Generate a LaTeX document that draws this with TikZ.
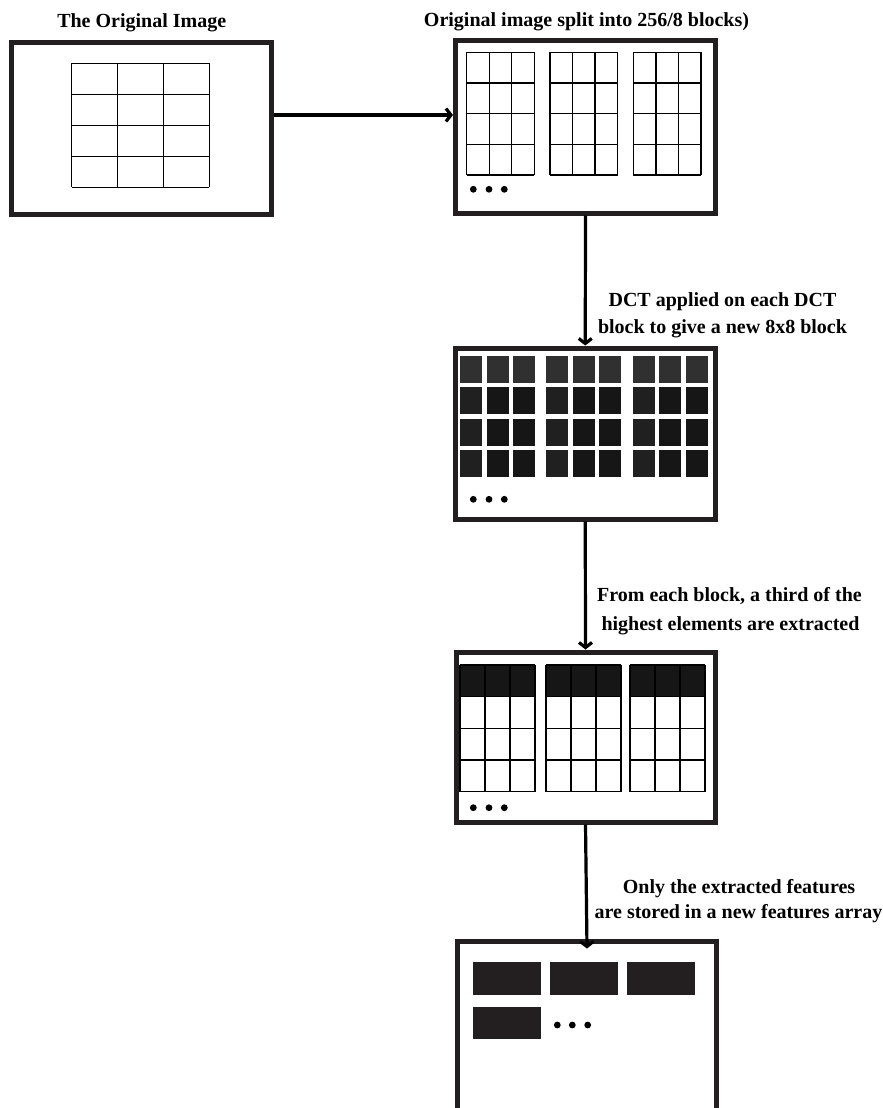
\documentclass[tikz,border=0pt]{standalone}
\usepackage{fontspec}
\setmainfont{Liberation Serif}
\usetikzlibrary{arrows.meta}
\definecolor{boxc}{RGB}{35,31,32}
\definecolor{topc}{RGB}{48,48,48}
\definecolor{midc}{RGB}{22,22,22}
\definecolor{firstc}{RGB}{32,32,32}
\definecolor{featc}{RGB}{35,31,32}
\tikzset{
  bigbox/.style={draw=boxc, line width=5pt, fill=white, inner sep=0pt, minimum width=#1},
  bigbox/.default=259pt,
  gridline/.style={draw=black, line width=1.4pt},
  arr/.style={draw=black, line width=3.2pt, -{Straight Barb[length=5pt,width=13pt]}},
  lbl/.style={font=\fontsize{20}{26}\selectfont\bfseries, anchor=base, inner sep=0pt},
  dot/.style={fill=black},
  feat/.style={fill=featc},
}
\begin{document}
\begin{tikzpicture}[x=1pt,y=-1pt]
\useasboundingbox (0,0) rectangle (883,1108);
\path[clip] (0,0) rectangle (883,1108);
\fill[white] (0,0) rectangle (883,1108);

% boxes
\node[bigbox=259.5pt, minimum height=171.5pt] (b1) at (141.25,128.75) {};
\node[bigbox=260pt, minimum height=172pt] (b2) at (585.5,127) {};
\node[bigbox=259.5pt, minimum height=171pt] (b3) at (585.25,433.5) {};
\node[bigbox=259pt, minimum height=170pt] (b4) at (585.5,737) {};
\node[bigbox=259pt, minimum height=200pt] (b5) at (587,1041) {};

% titles and labels
\node[lbl] (t1) at (141.7,28) {The Original Image};
\node[lbl] (t2) at (586.5,27) {Original image split into 256/8 blocks)};
\node[lbl] (l2a) at (722.5,306.7) {DCT applied on each DCT};
\node[lbl] (l2b) at (722.5,333.3) {block to give a new 8x8 block};
\node[lbl] (l3a) at (729.5,601.7) {From each block, a third of the};
\node[lbl] (l3b) at (730.5,630.5) {highest elements are extracted};
\node[lbl] (l4a) at (739,893.3) {Only the extracted features};
\node[lbl] (l4b) at (738.5,918.5) {are stored in a new features array};

% box 1 grid
\foreach \i in {0,...,3} \draw[gridline] ({71.7+\i*45.87},63.3) -- ({71.7+\i*45.87},187.3);
\foreach \j in {0,...,4} \draw[gridline] (71.7,{63.3+\j*31}) -- (209.3,{63.3+\j*31});

% box 2 grids
\foreach \gx in {466.7,550,633.3}{
  \foreach \i in {0,...,3} \draw[gridline] ({\gx+\i*22.5},52.3) -- ({\gx+\i*22.5},175);
  \foreach \j in {0,...,4} \draw[gridline] (\gx,{52.3+\j*30.68}) -- ({\gx+67.5},{52.3+\j*30.68});
}

% box 3 dark cells
\foreach \gx in {460,546.2,632.7}{
  \foreach \i in {0,1,2}{
    \fill[topc] ({\gx+\i*26.5},356.3) rectangle ++(22,27);
    \foreach \j in {1,2,3}{
      \ifnum\i=0
        \fill[firstc] ({\gx+\i*26.5},{356.3+\j*31.1}) rectangle ++(22,27);
      \else
        \fill[midc] ({\gx+\i*26.5},{356.3+\j*31.1}) rectangle ++(22,27);
      \fi
    }
  }
}

% box 4 grids with extracted top row
\foreach \gx in {460,546,630}{
  \fill[midc] (\gx,665) rectangle ++(75,31.7);
  \foreach \i in {0,...,3} \draw[gridline] ({\gx+\i*25},665) -- ({\gx+\i*25},791.7);
  \foreach \j in {0,...,4} \draw[gridline] (\gx,{665+\j*31.68}) -- ({\gx+75},{665+\j*31.68});
}

% dots
\foreach \yy in {189.3,499.3,807.7}{
  \foreach \xx in {473.3,489,504.3} \fill[dot] (\xx,\yy) circle (3.4);
}
\foreach \xx in {557.3,572.3,587.7} \fill[dot] (\xx,1025) circle (3.4);

% feature array
\fill[feat] (472.7,962.3) rectangle (540.7,995);
\fill[feat] (550,962.3) rectangle (617.7,995);
\fill[feat] (626.7,962.3) rectangle (695,995);
\fill[feat] (472.7,1006.7) rectangle (540.7,1039.3);

% connectors
\coordinate (a1) at (0,115);
\draw[arr] (b1.east |- a1) -- (b2.west |- a1);
\draw[arr] (b2.south) -- (b3.north);
\draw[arr] (b3.south) -- (b4.north);
\draw[arr] (b4.south) -- ([yshift=-10pt]b5.north);
\end{tikzpicture}
\end{document}
